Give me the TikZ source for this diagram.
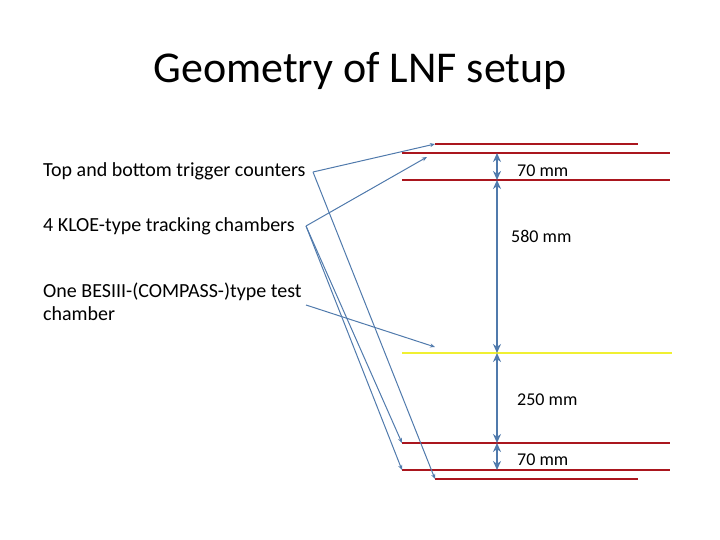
\documentclass[tikz,border=0pt]{standalone}
\usepackage{fontspec}
\setmainfont{Carlito}
\usetikzlibrary{arrows.meta}

\definecolor{ciemnyczerwony}{RGB}{170,22,30}
\definecolor{zolty}{RGB}{240,240,50}
\definecolor{niebieski}{RGB}{80,122,172}

\begin{document}
\begin{tikzpicture}[x=1pt,y=-1pt,
	komora/.style={ciemnyczerwony, line width=2pt},
	testowa/.style={zolty, line width=2.5pt},
	opis/.style={anchor=base west, inner sep=0pt, font=\fontsize{20}{22}\selectfont},
	tekst/.style={anchor=base west, inner sep=0pt, font=\fontsize{18}{22}\selectfont},
	wskaznik/.style={niebieski, line width=1pt, -{Stealth[length=5pt,width=4pt]}},
	wymiar/.style={niebieski, line width=1.8pt, {Stealth[length=9pt,width=8pt]}-{Stealth[length=9pt,width=8pt]}}]

		\useasboundingbox (0,0) rectangle (720,540);

		% Tytul
		\node[anchor=base, inner sep=0pt, font=\fontsize{44}{53}\selectfont] (tytul) at (360,83) {Geometry of LNF setup};

		% Opisy
		\node[opis] (trygery) at (43,177) {Top and bottom trigger counters};
		\node[opis] (kloe) at (43,232) {4 KLOE-type tracking chambers};
		\node[opis] (besiii) at (43,297) {One BESIII-(COMPASS-)type test};
		\node[opis] (besiii2) at (43,320) {chamber};

		% Liczniki i komory
		\coordinate (trygGoraL) at (435,144);
		\coordinate (trygGoraP) at (638,144);
		\coordinate (komora1L) at (402,153);
		\coordinate (komora1P) at (670,153);
		\coordinate (komora2L) at (402,180);
		\coordinate (komora2P) at (670,180);
		\coordinate (testL) at (402,353);
		\coordinate (testP) at (672,353);
		\coordinate (komora3L) at (402,443);
		\coordinate (komora3P) at (670,443);
		\coordinate (komora4L) at (402,470);
		\coordinate (komora4P) at (670,470);
		\coordinate (trygDolL) at (435,479);
		\coordinate (trygDolP) at (638,479);

		\draw[komora] (trygGoraL) -- (trygGoraP);
		\draw[komora] (komora1L) -- (komora1P);
		\draw[komora] (komora2L) -- (komora2P);
		\draw[testowa] (testL) -- (testP);
		\draw[komora] (komora3L) -- (komora3P);
		\draw[komora] (komora4L) -- (komora4P);
		\draw[komora] (trygDolL) -- (trygDolP);

		% Wymiary
		\coordinate (w1) at (497,153);
		\coordinate (w2) at (497,180);
		\coordinate (w3) at (497,353);
		\coordinate (w4) at (497,443);
		\coordinate (w5) at (497,470);

		\draw[wymiar] (w1) -- (w2);
		\draw[wymiar] (w2) -- (w3);
		\draw[wymiar] (w3) -- (w4);
		\draw[wymiar] (w4) -- (w5);

		\node[tekst] (d70a) at (517,177) {70 mm};
		\node[tekst] (d580) at (511,243) {580 mm};
		\node[tekst] (d250) at (517,405) {250 mm};
		\node[tekst] (d70b) at (517,465) {70 mm};

		% Strzalki od opisow
		\coordinate (odTryg) at (313,172);
		\coordinate (odKloe) at (306,226);
		\coordinate (odBes) at (306,305);
		\coordinate (doKloe1) at (427,157);
		\coordinate (doBes) at (435,347);

		\draw[wskaznik] (odTryg) -- (trygGoraL);
		\draw[wskaznik] (odTryg) -- (trygDolL);
		\draw[wskaznik] (odKloe) -- (doKloe1);
		\draw[wskaznik] (odKloe) -- (komora3L);
		\draw[wskaznik] (odKloe) -- (komora4L);
		\draw[wskaznik] (odBes) -- (doBes);

	\end{tikzpicture}
\end{document}
